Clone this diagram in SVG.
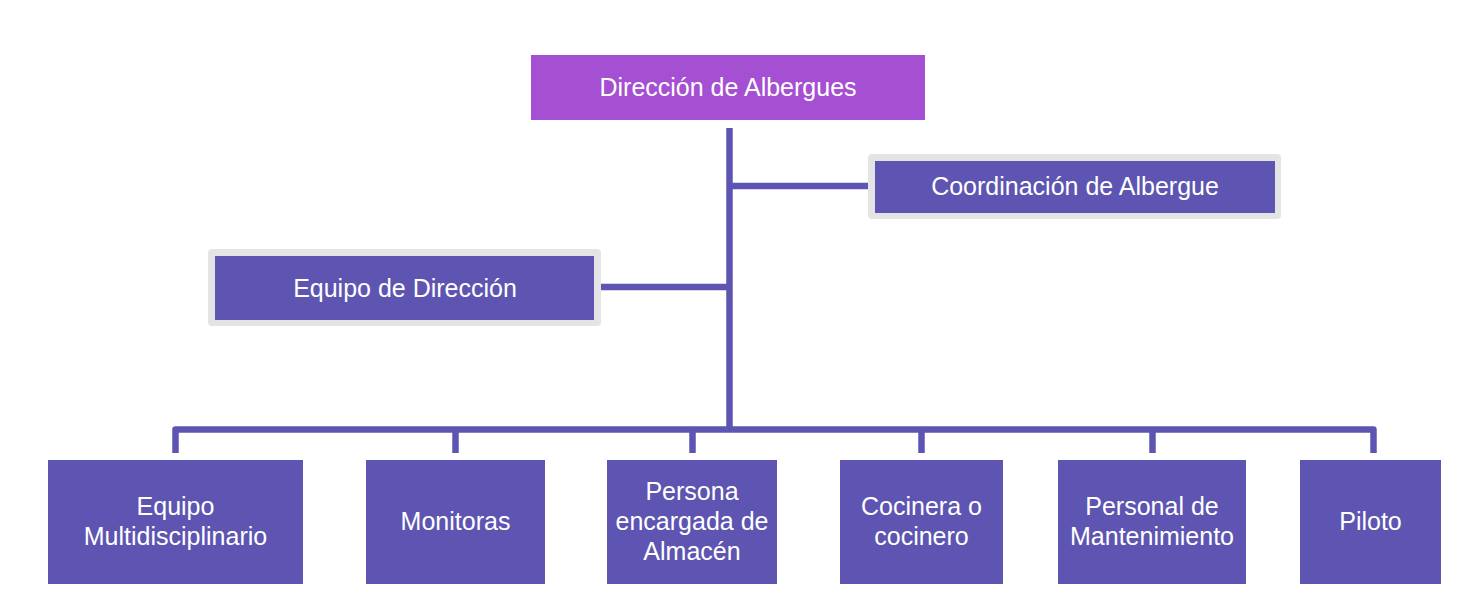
<svg xmlns="http://www.w3.org/2000/svg" width="1474" height="593" viewBox="0 0 1474 593">
<style>
.box{fill:#5D55B1}
.top{fill:#A54FD2}
.frame{fill:#E4E4E4}
.t{font-family:"Liberation Sans",Arial,sans-serif;font-size:25px;fill:#FFFFFF;text-anchor:middle}
.c{fill:none;stroke:#5D55B1;stroke-width:6.5;stroke-linejoin:round}
</style>
<rect width="1474" height="593" fill="#FFFFFF"/>
<g id="connectors">
<path class="c" d="M729.5 128 V430"/>
<path class="c" d="M729.5 186 H868"/>
<path class="c" d="M601 287 H729.5"/>
<path class="c" d="M175.5 453 V429.5 H1373.5 V453"/>
<path class="c" d="M455.5 429.5 V453"/>
<path class="c" d="M692.5 429.5 V453"/>
<path class="c" d="M921.5 429.5 V453"/>
<path class="c" d="M1152.5 429.5 V453"/>
</g>
<g id="n-direccion">
<rect class="top" x="531" y="55" width="394" height="65"/>
<text class="t" x="728" y="96">Dirección de Albergues</text>
</g>
<g id="n-coordinacion">
<rect class="frame" x="868" y="154" width="413" height="65" rx="4"/>
<rect class="box" x="875" y="161" width="400" height="52"/>
<text class="t" x="1075" y="195">Coordinación de Albergue</text>
</g>
<g id="n-equipo-direccion">
<rect class="frame" x="208" y="249" width="393" height="77" rx="4"/>
<rect class="box" x="215" y="256" width="379" height="64"/>
<text class="t" x="405" y="297">Equipo de Dirección</text>
</g>
<g id="n-multidisciplinario">
<rect class="box" x="48" y="460" width="255" height="124"/>
<text class="t" x="175.5" y="515">Equipo</text>
<text class="t" x="175.5" y="545">Multidisciplinario</text>
</g>
<g id="n-monitoras">
<rect class="box" x="366" y="460" width="179" height="124"/>
<text class="t" x="455.5" y="530">Monitoras</text>
</g>
<g id="n-almacen">
<rect class="box" x="607" y="460" width="170" height="124"/>
<text class="t" x="692" y="500">Persona</text>
<text class="t" x="692" y="530">encargada de</text>
<text class="t" x="692" y="560">Almacén</text>
</g>
<g id="n-cocina">
<rect class="box" x="840" y="460" width="163" height="124"/>
<text class="t" x="921.5" y="515">Cocinera o</text>
<text class="t" x="921.5" y="545">cocinero</text>
</g>
<g id="n-mantenimiento">
<rect class="box" x="1058" y="460" width="188" height="124"/>
<text class="t" x="1152" y="515">Personal de</text>
<text class="t" x="1152" y="545">Mantenimiento</text>
</g>
<g id="n-piloto">
<rect class="box" x="1300" y="460" width="141" height="124"/>
<text class="t" x="1370.5" y="530">Piloto</text>
</g>
</svg>
